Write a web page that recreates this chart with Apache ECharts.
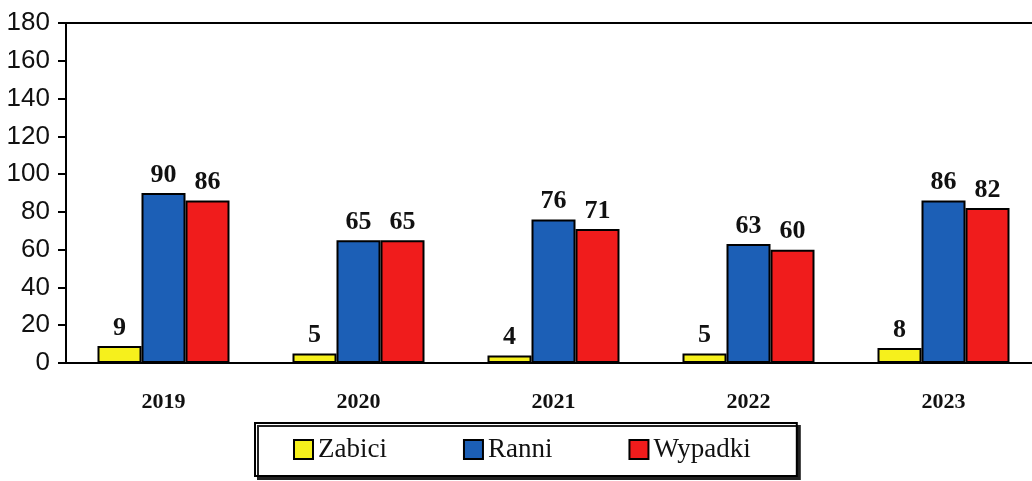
<!DOCTYPE html>
<html>
<head>
<meta charset="utf-8">
<script src="https://cdn.jsdelivr.net/npm/echarts@6/dist/echarts.min.js"></script>
<style>
  html, body { margin: 0; padding: 0; background: #fff; }
  #chart { width: 1032px; height: 481px; }
</style>
</head>
<body>
<div id="chart"></div>
<script>
var years = ['2019', '2020', '2021', '2022', '2023']
var zabici = [9, 5, 4, 5, 8]
var ranni = [90, 65, 76, 63, 86]
var wypadki = [86, 65, 71, 60, 82]
var yTicks = [0, 20, 40, 60, 80, 100, 120, 140, 160, 180]

var serif = 'Liberation Serif, Times New Roman, serif'

function barSeries(name, data, color) {
  return {
    name: name,
    type: 'bar',
    data: data,
    barWidth: 44,
    barGap: '0%',
    itemStyle: {
      color: color,
      borderColor: '#000',
      borderWidth: 2
    },
    label: {
      show: true,
      position: 'top',
      distance: 5,
      color: '#111',
      fontFamily: serif,
      fontWeight: 'bold',
      fontSize: 26
    }
  }
}

var chart = echarts.init(document.getElementById('chart'))
chart.setOption({
  animation: false,
  grid: {
    left: 66,
    top: 23,
    width: 975,
    height: 340,
    outerBoundsMode: 'none',
    containLabel: false,
    show: true,
    borderColor: '#000',
    borderWidth: 2,
    backgroundColor: 'transparent'
  },
  legend: {
    left: 255,
    top: 423,
    padding: [13, 46, 13, 38],
    itemWidth: 19,
    itemHeight: 19,
    itemGap: 76,
    icon: 'rect',
    backgroundColor: '#fff',
    borderColor: '#000',
    borderWidth: 2,
    shadowColor: '#222',
    shadowOffsetX: 3,
    shadowOffsetY: 3,
    shadowBlur: 0,
    itemStyle: { borderColor: '#000', borderWidth: 2 },
    textStyle: {
      fontFamily: serif,
      fontSize: 27,
      color: '#111'
    },
    data: ['Zabici', 'Ranni', 'Wypadki']
  },
  xAxis: {
    type: 'category',
    data: years,
    axisLine: { lineStyle: { color: '#000', width: 2 } },
    axisTick: { show: false },
    axisLabel: {
      margin: 28,
      color: '#111',
      fontFamily: serif,
      fontWeight: 'bold',
      fontSize: 22
    }
  },
  yAxis: {
    type: 'value',
    min: yTicks[0],
    max: yTicks[yTicks.length - 1],
    interval: 20,
    splitLine: { show: false },
    axisLine: { show: true, lineStyle: { color: '#000', width: 2 } },
    axisTick: { show: true, length: 8, lineStyle: { color: '#000', width: 2 } },
    axisLabel: {
      margin: 16,
      color: '#111',
      fontFamily: 'Liberation Sans, Arial, sans-serif',
      fontSize: 26
    }
  },
  series: [
    barSeries('Zabici', zabici, '#f6f01c'),
    barSeries('Ranni', ranni, '#1c5fb6'),
    barSeries('Wypadki', wypadki, '#f01c1c')
  ]
})
</script>
</body>
</html>
